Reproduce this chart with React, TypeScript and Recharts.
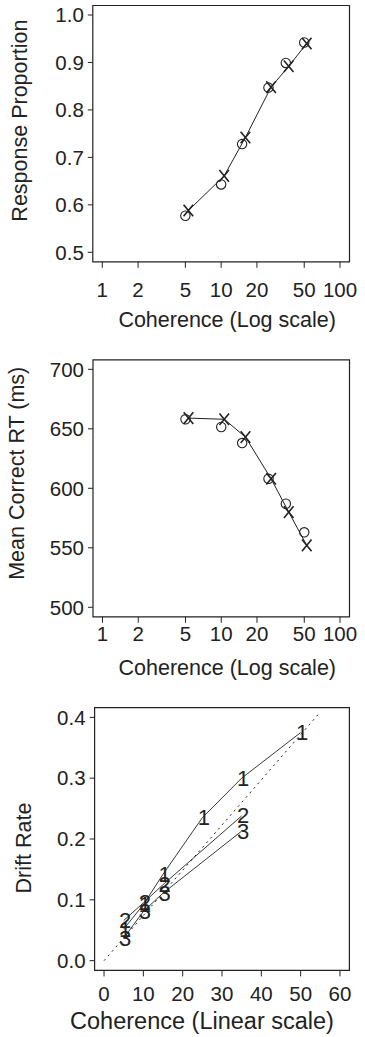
import React from 'react';
import { ComposedChart, Line, Scatter, XAxis, YAxis, ReferenceArea } from 'recharts';

const FONT = '"Liberation Sans", Arial, Helvetica, sans-serif';
const INK = '#222';

// coherence levels (observed points) and the slightly offset prediction points
const obsCoh = [5, 10, 15, 25, 35, 50];
const predCoh = [5.3, 10.6, 16, 26.3, 37, 52.5];

// top panel: response proportion
const obsProp = [0.577, 0.643, 0.728, 0.847, 0.899, 0.942];
const predProp = [0.588, 0.661, 0.742, 0.848, 0.892, 0.94];

// middle panel: mean correct RT (ms)
const obsRT = [658, 651.5, 638, 608, 587, 563];
const predRT = [659, 658, 643, 608, 580, 552];

// bottom panel: drift rates per condition
const cond1Coh = [5, 10, 15, 25, 35, 50];
const cond1Drift = [0.052, 0.092, 0.142, 0.235, 0.3, 0.375];
const cond23Coh = [5, 10, 15, 35];
const cond2Drift = [0.066, 0.095, 0.125, 0.238];
const cond3Drift = [0.037, 0.081, 0.111, 0.213];
const diagCoh = [0, 54.5];
const diagDrift = [0, 0.405];

const logTicks = [1, 2, 5, 10, 20, 50, 100];
const propTicks = [0.5, 0.6, 0.7, 0.8, 0.9, 1.0];
const rtTicks = [500, 550, 600, 650, 700];
const linTicks = [0, 10, 20, 30, 40, 50, 60];
const driftTicks = [0, 0.1, 0.2, 0.3, 0.4];

const zip = (xs: number[], ys: number[]) => xs.map((x, i) => ({ x, y: ys[i] }));

const tickStyle = { fontFamily: FONT, fontSize: 20.5, fill: INK };

function Cross(props: any) {
  const { cx, cy, index } = props;
  if (cx == null || cy == null) return null;
  const w = 4.8;
  const h = 5.8;
  return (
    <path
      key={`x${index}`}
      d={`M${cx - w},${cy - h}L${cx + w},${cy + h}M${cx - w},${cy + h}L${cx + w},${cy - h}`}
      stroke={INK}
      strokeWidth={1.6}
      fill="none"
    />
  );
}

function Ring(props: any) {
  const { cx, cy } = props;
  if (cx == null || cy == null) return null;
  return <circle cx={cx} cy={cy} r={4.7} stroke={INK} strokeWidth={1.1} fill="none" />;
}

const digitDot = (label: string) => (props: any) => {
  const { cx, cy, index } = props;
  if (cx == null || cy == null) return <g key={`n${label}${index}`} />;
  return (
    <text
      key={`n${label}${index}`}
      x={cx + 1.5}
      y={cy}
      textAnchor="middle"
      dominantBaseline="central"
      style={{ fontFamily: FONT, fontSize: 22, fill: INK }}
    >
      {label}
    </text>
  );
};

const xTitle = (text: string, dx: number, dy: number, size = 21.5) => (p: any) => {
  const vb = p.viewBox;
  if (!vb) return null;
  return (
    <text
      x={vb.x + vb.width / 2 + dx}
      y={vb.y + dy}
      textAnchor="middle"
      dominantBaseline="central"
      style={{ fontFamily: FONT, fontSize: size, fill: INK }}
    >
      {text}
    </text>
  );
};

const yTitle = (text: string, cxAbs: number, dy: number) => (p: any) => {
  const vb = p.viewBox;
  if (!vb) return null;
  const cy = vb.y + vb.height / 2 + dy;
  return (
    <text
      x={cxAbs}
      y={cy}
      transform={`rotate(-90 ${cxAbs} ${cy})`}
      textAnchor="middle"
      dominantBaseline="central"
      style={{ fontFamily: FONT, fontSize: 21.5, fill: INK }}
    >
      {text}
    </text>
  );
};

const LOG_DOMAIN = [0.832, 120.2];

function ProportionPanel() {
  return (
    <ComposedChart width={365} height={340} margin={{ top: 5.5, right: 15.5, bottom: 0, left: 0 }}>
      <XAxis
        dataKey="x"
        type="number"
        scale="log"
        domain={LOG_DOMAIN}
        allowDataOverflow
        ticks={logTicks}
        interval={0}
        height={78.2}
        axisLine={false}
        tickLine={{ stroke: INK }}
        tickSize={6}
        tickMargin={15}
        tick={tickStyle}
        label={xTitle('Coherence (Log scale)', 6, 58)}
      />
      <YAxis
        dataKey="y"
        type="number"
        domain={[0.48, 1.02]}
        allowDataOverflow
        ticks={propTicks}
        interval={0}
        width={92.8}
        axisLine={false}
        tickLine={{ stroke: INK }}
        tickSize={5}
        tickMargin={4}
        tick={tickStyle}
        tickFormatter={(v: number) => v.toFixed(1)}
        label={yTitle('Response Proportion', 20.5, -13)}
      />
      <ReferenceArea x1={LOG_DOMAIN[0]} x2={LOG_DOMAIN[1]} y1={0.48} y2={1.02} fill="none" stroke={INK} strokeWidth={1.2} ifOverflow="visible" />
      <Scatter data={zip(obsCoh, obsProp)} dataKey="y" shape={Ring} isAnimationActive={false} />
      <Line data={zip(predCoh, predProp)} dataKey="y" type="linear" stroke={INK} strokeWidth={1} dot={Cross} activeDot={false} isAnimationActive={false} />
    </ComposedChart>
  );
}

function RTPanel() {
  return (
    <ComposedChart width={365} height={340} margin={{ top: 19.8, right: 15.5, bottom: 0, left: 0 }}>
      <XAxis
        dataKey="x"
        type="number"
        scale="log"
        domain={LOG_DOMAIN}
        allowDataOverflow
        ticks={logTicks}
        interval={0}
        height={63.2}
        axisLine={false}
        tickLine={{ stroke: INK }}
        tickSize={6}
        tickMargin={4}
        tick={tickStyle}
        label={xTitle('Coherence (Log scale)', 6, 51)}
      />
      <YAxis
        dataKey="y"
        type="number"
        domain={[492, 708]}
        allowDataOverflow
        ticks={rtTicks}
        interval={0}
        width={93}
        axisLine={false}
        tickLine={{ stroke: INK }}
        tickSize={5}
        tickMargin={4}
        tick={tickStyle}
        label={yTitle('Mean Correct RT (ms)', 17.5, -15)}
      />
      <ReferenceArea x1={LOG_DOMAIN[0]} x2={LOG_DOMAIN[1]} y1={492} y2={708} fill="none" stroke={INK} strokeWidth={1.2} ifOverflow="visible" />
      <Scatter data={zip(obsCoh, obsRT)} dataKey="y" shape={Ring} isAnimationActive={false} />
      <Line data={zip(predCoh, predRT)} dataKey="y" type="linear" stroke={INK} strokeWidth={1} dot={Cross} activeDot={false} isAnimationActive={false} />
    </ComposedChart>
  );
}

function DriftPanel() {
  return (
    <ComposedChart width={365} height={357} margin={{ top: 27.6, right: 15.6, bottom: 0, left: 0 }}>
      <XAxis
        dataKey="x"
        type="number"
        domain={[-2.4, 62.4]}
        allowDataOverflow
        ticks={linTicks}
        interval={0}
        height={66.6}
        axisLine={false}
        tickLine={{ stroke: INK }}
        tickSize={6}
        tickMargin={10}
        tick={tickStyle}
        label={xTitle('Coherence (Linear scale)', -20, 51, 23.5)}
      />
      <YAxis
        dataKey="y"
        type="number"
        domain={[-0.016, 0.416]}
        allowDataOverflow
        ticks={driftTicks}
        interval={0}
        width={94.6}
        axisLine={false}
        tickLine={{ stroke: INK }}
        tickSize={5}
        tickMargin={4}
        tick={tickStyle}
        tickFormatter={(v: number) => v.toFixed(1)}
        label={yTitle('Drift Rate', 24, 9)}
      />
      <ReferenceArea x1={-2.4} x2={62.4} y1={-0.016} y2={0.416} fill="none" stroke={INK} strokeWidth={1.2} ifOverflow="visible" />
      <Line data={zip(diagCoh, diagDrift)} dataKey="y" type="linear" stroke={INK} strokeWidth={1} strokeDasharray="2 4" dot={false} activeDot={false} isAnimationActive={false} />
      <Line data={zip(cond23Coh, cond3Drift)} dataKey="y" type="linear" stroke={INK} strokeWidth={0.9} dot={digitDot('3')} activeDot={false} isAnimationActive={false} />
      <Line data={zip(cond23Coh, cond2Drift)} dataKey="y" type="linear" stroke={INK} strokeWidth={0.9} dot={digitDot('2')} activeDot={false} isAnimationActive={false} />
      <Line data={zip(cond1Coh, cond1Drift)} dataKey="y" type="linear" stroke={INK} strokeWidth={0.9} dot={digitDot('1')} activeDot={false} isAnimationActive={false} />
    </ComposedChart>
  );
}

export default function App() {
  return (
    <div style={{ position: 'absolute', left: 0, top: 0, width: 365, height: 1037, background: '#fff' }}>
      <div style={{ position: 'absolute', left: 0, top: 0 }}>
        <ProportionPanel />
      </div>
      <div style={{ position: 'absolute', left: 0, top: 340 }}>
        <RTPanel />
      </div>
      <div style={{ position: 'absolute', left: 0, top: 680 }}>
        <DriftPanel />
      </div>
    </div>
  );
}
